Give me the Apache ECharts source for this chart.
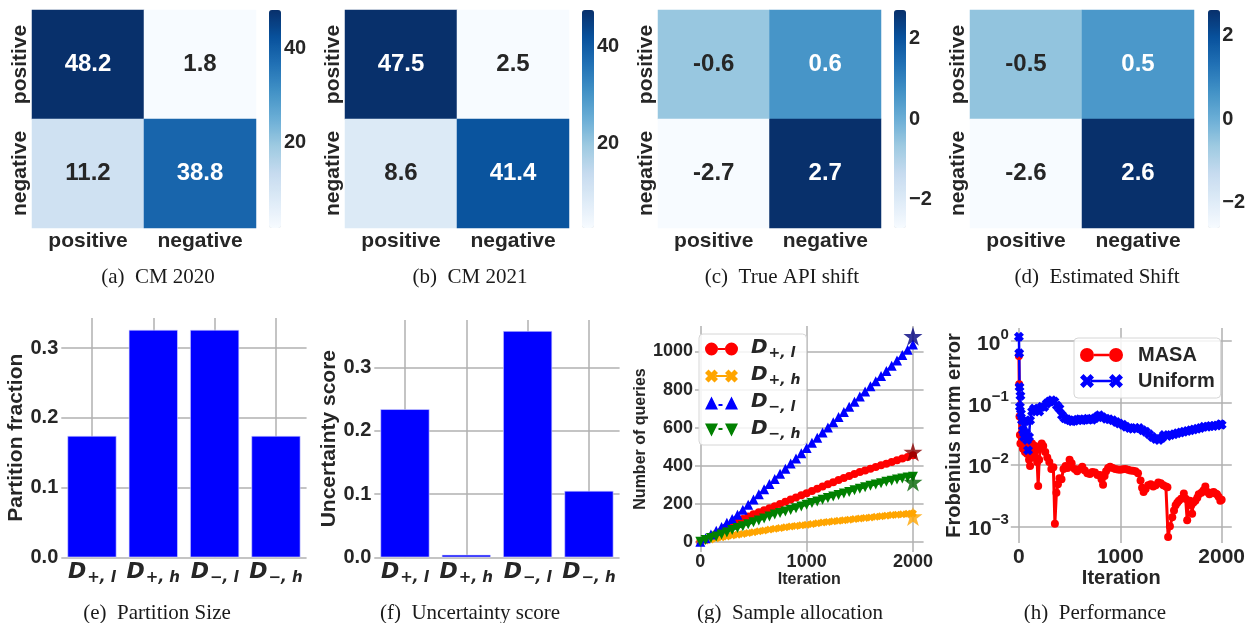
<!DOCTYPE html>
<html><head><meta charset="utf-8">
<script src="https://cdn.jsdelivr.net/npm/echarts@6/dist/echarts.min.js"></script>
<style>html,body{margin:0;padding:0;background:#fff}#c{width:1248px;height:623px}</style>
</head><body><div id="c"></div>
<script>
// ---------------- DATA ----------------
const CM_LABELS = ['positive', 'negative'];
const CM_2020 = [[48.2, 1.8], [11.2, 38.8]];
const CM_2021 = [[47.5, 2.5], [8.6, 41.4]];
const TRUE_SHIFT = [[-0.6, 0.6], [-2.7, 2.7]];
const EST_SHIFT = [[-0.5, 0.5], [-2.6, 2.6]];
const CB_TICKS_A = [20, 40];
const CB_TICKS_B = [20, 40];
const CB_TICKS_C = [-2, 0, 2];
const CB_TICKS_D = [-2, 0, 2];
const CAPTIONS = ['(a)  CM 2020', '(b)  CM 2021', '(c)  True API shift', '(d)  Estimated Shift',
                  '(e)  Partition Size', '(f)  Uncertainty score', '(g)  Sample allocation', '(h)  Performance'];

const PARTITION_SUBS = ['+, l', '+, h', '\u2212, l', '\u2212, h'];
const PARTITIONS = PARTITION_SUBS.map(s => 'D' + s);
const PARTITION_FRACTION = [0.174, 0.326, 0.326, 0.174];
const UNCERTAINTY_SCORE = [0.234, 0.004, 0.3575, 0.105];

const ITER_G = [0,50,100,150,200,250,300,350,400,450,500,550,600,650,700,750,800,850,900,950,1000,
                1050,1100,1150,1200,1250,1300,1350,1400,1450,1500,1550,1600,1650,1700,1750,1800,1850,1900,1950,2000];
const Q_POS_L = [0,14,28,42,56,73,90,106,119,132,144,155,165,176,187,198,210,222,233,244,255,
                 266,278,290,302,313,324,335,346,356,366,375,384,393,402,410,419,428,437,446,455];
const Q_POS_H = [0,6,12,18,23,28,33,37,41,46,50,55,59,64,68,72,76,80,83,86,89,
                 93,97,101,104,107,110,113,116,119,122,125,128,131,134,137,140,142,144,147,149];
const Q_NEG_L = [0,18,38,58,78,100,120,142,168,195,222,249,276,303,330,357,384,411,438,465,493,
                 520,547,574,601,628,655,682,709,736,763,790,817,844,871,898,925,953,981,1009,1037];
const Q_NEG_H = [0,9,19,28,38,49,61,72,82,92,102,112,122,133,143,151,159,167,176,185,194,
                 203,212,221,230,238,246,254,262,270,278,286,294,301,308,315,321,327,332,337,341];
const STAR_QUERIES = [472, 132, 1080, 314];   // final targets for D+,l  D+,h  D-,l  D-,h
const STAR_ITER = 2000;

const MASA_ERR = [[0,0.57],[3,0.2],[6,0.06],[10,0.03],[15,0.022],[20,0.03],[30,0.025],[40,0.018],[50,0.02],[60,0.016],
 [70,0.022],[80,0.015],[90,0.02],[100,0.012],[110,0.0095],[120,0.016],[130,0.022],[140,0.018],[150,0.013],[160,0.02],
 [170,0.017],[180,0.011],[190,0.0045],[200,0.012],[210,0.018],[225,0.022],[240,0.02],[260,0.016],[280,0.013],[300,0.011],
 [320,0.0085],[340,0.009],[355,0.0011],[370,0.0035],[385,0.0048],[400,0.006],[420,0.0058],[440,0.0085],[460,0.0095],[480,0.0088],
 [500,0.012],[520,0.0105],[550,0.0085],[575,0.0078],[600,0.0085],[625,0.0092],[650,0.008],[675,0.0072],[700,0.007],[725,0.0076],
 [750,0.0074],[775,0.0068],[800,0.0068],[815,0.0058],[830,0.0047],[845,0.0065],[860,0.0078],[880,0.0088],[900,0.0092],[925,0.0088],
 [950,0.0085],[975,0.0083],[1000,0.0082],[1025,0.0084],[1050,0.0085],[1075,0.0082],[1100,0.008],[1125,0.0079],[1150,0.0078],[1175,0.0072],
 [1200,0.0055],[1215,0.0042],[1230,0.0036],[1250,0.004],[1275,0.0046],[1300,0.0048],[1325,0.0044],[1350,0.0046],[1375,0.0051],[1400,0.005],
 [1425,0.0046],[1450,0.0044],[1465,0.0043],[1472,0.00067],[1490,0.001],[1513,0.0014],[1530,0.0018],[1546,0.0022],[1562,0.0024],[1578,0.0026],
 [1600,0.0028],[1627,0.0034],[1645,0.0028],[1660,0.00125],[1672,0.0026],[1686,0.0026],[1700,0.0022],[1709,0.0016],[1720,0.0024],[1741,0.0026],
 [1760,0.0029],[1774,0.0033],[1800,0.0035],[1820,0.0038],[1839,0.0044],[1860,0.0036],[1880,0.0033],[1900,0.0035],[1921,0.0036],[1940,0.0034],
 [1954,0.0033],[1970,0.003],[1987,0.0026],[2000,0.0027]];
const UNIFORM_ERR = [[0,1.17],[3,0.63],[6,0.18],[10,0.086],[15,0.13],[20,0.067],[30,0.052],[40,0.036],[50,0.028],[60,0.05],
 [70,0.032],[80,0.025],[90,0.017],[100,0.028],[110,0.052],[130,0.072],[150,0.081],[175,0.076],[200,0.072],[225,0.086],
 [250,0.085],[275,0.097],[300,0.105],[325,0.11],[350,0.105],[375,0.09],[400,0.081],[425,0.063],[450,0.056],[475,0.054],
 [500,0.052],[525,0.05],[550,0.051],[575,0.053],[600,0.054],[625,0.052],[650,0.053],[675,0.055],[700,0.054],[725,0.053],
 [750,0.056],[775,0.06],[794,0.063],[825,0.058],[860,0.055],[890,0.054],[925,0.052],[960,0.049],[990,0.046],[1025,0.044],
 [1056,0.041],[1090,0.039],[1121,0.038],[1150,0.039],[1186,0.039],[1220,0.036],[1252,0.034],[1285,0.031],[1317,0.028],[1350,0.026],
 [1382,0.025],[1410,0.027],[1431,0.03],[1465,0.029],[1497,0.03],[1530,0.031],[1562,0.032],[1595,0.033],[1627,0.034],[1660,0.035],
 [1693,0.036],[1725,0.037],[1758,0.038],[1790,0.039],[1824,0.041],[1856,0.041],[1889,0.042],[1920,0.042],[1954,0.043],[1987,0.045],[2000,0.044]];

// ---------------- STYLE ----------------
const FONT = 'Liberation Sans';
const MATH = 'DejaVu Sans';
const TXT = '#262626';
const GRIDC = '#b0b0b0';
const BLUES = ['#f7fbff','#deebf7','#c6dbef','#9ecae1','#6baed6','#4292c6','#2171b5','#08519c','#08306b'];
const SYM_X = 'path://M0,3L3,0L5,2L7,0L10,3L8,5L10,7L7,10L5,8L3,10L0,7L2,5Z';
const SYM_STAR = 'path://M50,0L61.23,34.55L97.55,34.55L68.16,55.9L79.39,90.45L50,69.1L20.61,90.45L31.84,55.9L2.45,34.55L38.77,34.55Z';
const ICON_CIRC = 'path://M0,13A13,13,0,1,0,26,13A13,13,0,1,0,0,13Z M40,13A13,13,0,1,0,66,13A13,13,0,1,0,40,13Z M26,11L40,11L40,15L26,15Z';
const ICON_X = 'path://M0,7L7,0L13,6L19,0L26,7L20,13L26,19L19,26L13,20L7,26L0,19L6,13Z M40,7L47,0L53,6L59,0L66,7L60,13L66,19L59,26L53,20L47,26L40,19L46,13Z M21,11L45,11L45,15L21,15Z';
const ICON_UP = 'path://M13,0L26,26L0,26Z M53,0L66,26L40,26Z M27,15L35,15L35,19L27,19Z';
const ICON_DN = 'path://M0,0L26,0L13,26Z M40,0L66,0L53,26Z M27,9L35,9L35,13L27,13Z';
const ICON_CIRC_H = 'path://M0,14A14,14,0,1,0,28,14A14,14,0,1,0,0,14Z M58,14A14,14,0,1,0,86,14A14,14,0,1,0,58,14Z M28,11.5L58,11.5L58,16.5L28,16.5Z';
const ICON_X_H = 'path://M0,7L7,0L14,7L21,0L28,7L21,14L28,21L21,28L14,21L7,28L0,21L7,14Z M58,7L65,0L72,7L79,0L86,7L79,14L86,21L79,28L72,21L65,28L58,21L65,14Z M22,11.5L64,11.5L64,16.5L22,16.5Z';

const bold = (size) => ({fontFamily: FONT, fontWeight: 'bold', fontSize: size, color: TXT});
const mathRich = (dSize, sSize, pad) => ({
  d: {fontFamily: MATH, fontWeight: 'bold', fontStyle: 'italic', fontSize: dSize, color: TXT, lineHeight: dSize + 2, verticalAlign: 'top'},
  s: {fontFamily: MATH, fontWeight: 'bold', fontStyle: 'italic', fontSize: sSize, color: TXT, lineHeight: sSize, padding: [pad, 0, 0, 1], verticalAlign: 'top'}
});
const subOf = name => name.slice(1);
const plain = v => String(v);

const option = {animation: false, backgroundColor: '#fff', grid: [], xAxis: [], yAxis: [], series: [], visualMap: [], legend: [], graphic: []};

// ---------------- HEATMAPS ----------------
const HEAT = [
  {m: CM_2020, left: 32, width: 224, cb: 269, ticks: CB_TICKS_A},
  {m: CM_2021, left: 345, width: 224, cb: 582, ticks: CB_TICKS_B},
  {m: TRUE_SHIFT, left: 658, width: 223, cb: 894, ticks: CB_TICKS_C},
  {m: EST_SHIFT, left: 970, width: 224, cb: 1208, ticks: CB_TICKS_D}
];
const HTOP = 10, HH = 218;
HEAT.forEach((h, i) => {
  const vals = h.m.flat();
  const mn = Math.min(...vals), mx = Math.max(...vals);
  option.grid.push({left: h.left, top: HTOP, width: h.width, height: HH});
  option.xAxis.push({gridIndex: i, type: 'category', data: CM_LABELS, axisLine: {show: false}, axisTick: {show: false},
    splitLine: {show: false}, axisLabel: Object.assign(bold(21), {margin: 3, interval: 0})});
  option.yAxis.push({gridIndex: i, type: 'category', data: CM_LABELS, inverse: true, axisLine: {show: false}, axisTick: {show: false},
    splitLine: {show: false}, axisLabel: Object.assign(bold(21), {margin: 1, rotate: 90, interval: 0, hideOverlap: false})});
  const data = [];
  for (let r = 0; r < 2; r++) for (let c = 0; c < 2; c++) {
    const v = h.m[r][c];
    const t = (v - mn) / (mx - mn);
    data.push({value: [c, r, v], label: {color: t > 0.5 ? '#ffffff' : TXT}});
  }
  option.series.push({type: 'heatmap', xAxisIndex: i, yAxisIndex: i, data,
    label: {show: true, fontFamily: FONT, fontWeight: 'bold', fontSize: 24, textBorderWidth: 0,
            formatter: p => p.value[2].toFixed(1)},
    emphasis: {disabled: true}});
  option.visualMap.push({type: 'continuous', seriesIndex: i, dimension: 2, min: mn, max: mx, calculable: false,
    inRange: {color: BLUES}, left: h.cb, top: HTOP, itemWidth: 12, itemHeight: HH, padding: 0, hoverLink: false,
    textStyle: {fontSize: 0}});
});
// colorbar axes
HEAT.forEach((h, i) => {
  const vals = h.m.flat();
  const mn = Math.min(...vals), mx = Math.max(...vals);
  const gi = 4 + i;
  option.grid.push({left: h.cb, top: HTOP, width: 12, height: HH});
  option.xAxis.push({gridIndex: gi, type: 'value', show: false, min: 0, max: 1});
  option.yAxis.push({gridIndex: gi, type: 'value', position: 'right', min: mn, max: mx,
    axisLine: {show: false}, splitLine: {show: false},
    axisTick: {show: true, length: 3, customValues: h.ticks, lineStyle: {color: TXT, width: 1}},
    axisLabel: Object.assign(bold(20), {margin: 3, customValues: h.ticks,
      formatter: v => (v < 0 ? '\u2212' + Math.abs(v) : String(v))})});
});

// ---------------- BAR CHARTS ----------------
const BARS = [
  {vals: PARTITION_FRACTION, left: 61.3, top: 318, height: 239.3, max: 0.343, name: 'Partition fraction', gap: 34},
  {vals: UNCERTAINTY_SCORE, left: 374.3, top: 320, height: 237.3, max: 0.375, name: 'Uncertainty score', gap: 33}
];
BARS.forEach((b, k) => {
  const gi = 8 + k;
  option.grid.push({left: b.left, top: b.top, width: 245.3, height: b.height});
  option.xAxis.push({gridIndex: gi, type: 'value', min: -0.5, max: 3.5, splitNumber: 4,
    axisLine: {show: false}, axisTick: {show: false},
    splitLine: {show: true, showMinLine: false, showMaxLine: false, lineStyle: {color: GRIDC, width: 1.5}},
    axisLabel: {margin: 4, showMinLabel: false, showMaxLabel: false,
      formatter: v => (Number.isInteger(v) && v >= 0 && v < 4) ? '{d|D}{s|' + subOf(PARTITIONS[v]) + '}' : '',
      rich: mathRich(22, 15, 9)}});
  option.yAxis.push({gridIndex: gi, type: 'value', min: 0, max: b.max, splitNumber: 3,
    axisLine: {show: false}, axisTick: {show: false},
    splitLine: {show: true, showMaxLine: false, lineStyle: {color: GRIDC, width: 1.5}},
    axisLabel: Object.assign(bold(20), {margin: 3, showMaxLabel: false, formatter: v => v.toFixed(1)}),
    name: b.name, nameLocation: 'middle', nameGap: b.gap, nameTextStyle: bold(21)});
  option.series.push({type: 'bar', xAxisIndex: gi, yAxisIndex: gi, barWidth: 49,
    data: b.vals.map((v, i) => [i, v]),
    itemStyle: {color: '#0000ff', borderColor: '#d8d8ff', borderWidth: 0.6}, emphasis: {disabled: true}});
});

// ---------------- (g) SAMPLE ALLOCATION ----------------
option.grid.push({left: 695, top: 326, width: 228.6, height: 226});
option.xAxis.push({gridIndex: 10, type: 'value', min: -50, max: 2100, splitNumber: 2,
  axisLine: {show: false}, axisTick: {show: false},
  splitLine: {show: true, showMinLine: false, showMaxLine: false, lineStyle: {color: GRIDC, width: 1.5}},
  axisLabel: Object.assign(bold(18), {margin: 1, showMinLabel: false, showMaxLabel: false, formatter: plain}),
  name: 'Iteration', nameLocation: 'middle', nameGap: 15, nameTextStyle: bold(16)});
option.yAxis.push({gridIndex: 10, type: 'value', min: -54, max: 1134, splitNumber: 5,
  axisLine: {show: false}, axisTick: {show: false},
  splitLine: {show: true, showMinLine: false, showMaxLine: false, lineStyle: {color: GRIDC, width: 1.5}},
  axisLabel: Object.assign(bold(18), {margin: 2, showMinLabel: false, showMaxLabel: false, formatter: plain}),
  name: 'Number of queries', nameLocation: 'middle', nameGap: 44, nameTextStyle: bold(16)});
const G_SERIES = [
  {name: PARTITIONS[0], vals: Q_POS_L, color: '#ff0000', symbol: 'circle', size: 8, rot: 0, dash: 'solid'},
  {name: PARTITIONS[1], vals: Q_POS_H, color: '#ffa500', symbol: SYM_X, size: 8, rot: 0, dash: 'solid'},
  {name: PARTITIONS[2], vals: Q_NEG_L, color: '#0000ff', symbol: 'triangle', size: 10, rot: 0, dash: 'dashed'},
  {name: PARTITIONS[3], vals: Q_NEG_H, color: '#008000', symbol: 'triangle', size: 10, rot: 180, dash: 'dashed'}
];
G_SERIES.forEach(s => {
  option.series.push({type: 'line', name: s.name, xAxisIndex: 10, yAxisIndex: 10,
    data: ITER_G.map((x, i) => [x, s.vals[i]]), symbol: s.symbol, symbolSize: s.size, symbolRotate: s.rot,
    lineStyle: {color: s.color, width: 2, type: s.dash}, itemStyle: {color: s.color}, emphasis: {disabled: true}});
});
const STAR_COLORS = ['#8b0000', '#ffa500', '#000080', '#006400'];
option.series.push({type: 'scatter', name: 'targets', xAxisIndex: 10, yAxisIndex: 10, symbol: SYM_STAR, symbolSize: 19, z: 5,
  data: STAR_QUERIES.map((v, i) => ({value: [STAR_ITER, v], itemStyle: {color: STAR_COLORS[i]}})), emphasis: {disabled: true}});
option.legend.push({show: true, orient: 'vertical', left: 699, top: 334, padding: [4, 6, 4, 6], itemGap: 5,
  itemWidth: 33, itemHeight: 13, backgroundColor: 'rgba(255,255,255,0.85)', borderColor: '#d6d6d6', borderWidth: 1, borderRadius: 4,
  data: [
    {name: PARTITIONS[0], icon: ICON_CIRC}, {name: PARTITIONS[1], icon: ICON_X},
    {name: PARTITIONS[2], icon: ICON_UP}, {name: PARTITIONS[3], icon: ICON_DN}],
  selectedMode: false,
  formatter: n => '{d|D}{s|' + subOf(n) + '}',
  textStyle: {padding: [0, 0, 0, 8], rich: mathRich(20, 14, 8)}});

// ---------------- (h) PERFORMANCE ----------------
option.grid.push({left: 1010.8, top: 328, width: 222.4, height: 215});
option.xAxis.push({gridIndex: 11, type: 'value', min: -80, max: 2100, splitNumber: 2,
  axisLine: {show: false}, axisTick: {show: false},
  splitLine: {show: true, showMinLine: false, showMaxLine: false, lineStyle: {color: GRIDC, width: 1.5}},
  axisLabel: Object.assign(bold(21), {margin: 4, showMinLabel: false, showMaxLabel: false, formatter: plain}),
  name: 'Iteration', nameLocation: 'middle', nameGap: 20, nameTextStyle: bold(20)});
option.yAxis.push({gridIndex: 11, type: 'log', logBase: 10, min: Math.pow(10, -3.27), max: Math.pow(10, 0.21),
  axisLine: {show: false}, axisTick: {show: false},
  splitLine: {show: true, showMinLine: false, showMaxLine: false, lineStyle: {color: GRIDC, width: 1.5}},
  axisLabel: {margin: 2, showMinLabel: false, showMaxLabel: false,
    formatter: v => { const e = Math.round(Math.log10(v)); return '{b|10}{e|' + (e < 0 ? '\u2212' + (-e) : e) + '}'; },
    rich: {b: Object.assign(bold(21), {lineHeight: 27, verticalAlign: 'bottom'}),
           e: Object.assign(bold(15), {lineHeight: 15, verticalAlign: 'top'})}},
  name: 'Frobenius norm error', nameLocation: 'middle', nameGap: 43, nameTextStyle: bold(20)});
option.series.push({type: 'line', name: 'MASA', xAxisIndex: 11, yAxisIndex: 11, data: MASA_ERR,
  symbol: 'circle', symbolSize: 8, lineStyle: {color: '#ff0000', width: 3}, itemStyle: {color: '#ff0000'}, emphasis: {disabled: true}});
option.series.push({type: 'line', name: 'Uniform', xAxisIndex: 11, yAxisIndex: 11, data: UNIFORM_ERR,
  symbol: SYM_X, symbolSize: 10, lineStyle: {color: '#0000ff', width: 2.5}, itemStyle: {color: '#0000ff'}, emphasis: {disabled: true}});
option.legend.push({show: true, orient: 'vertical', left: 1074, top: 338, padding: [7, 6, 7, 6], itemGap: 6,
  itemWidth: 43, itemHeight: 14, backgroundColor: 'rgba(255,255,255,0.85)', borderColor: '#d6d6d6', borderWidth: 1, borderRadius: 4,
  data: [{name: 'MASA', icon: ICON_CIRC_H}, {name: 'Uniform', icon: ICON_X_H}], selectedMode: false,
  textStyle: Object.assign(bold(20), {padding: [0, 0, 0, 10]})});

// ---------------- CAPTIONS ----------------
const CAP_POS = [[158, 277], [470, 277], [782, 277], [1097, 277], [157, 613], [470, 613], [790, 613], [1095, 613]];
CAPTIONS.forEach((t, i) => {
  option.graphic.push({type: 'text', x: CAP_POS[i][0], y: CAP_POS[i][1], silent: true,
    style: {text: t, fontFamily: 'Liberation Serif', fontSize: 21, fill: '#1a1a1a', align: 'center', verticalAlign: 'middle'}});
});

const chart = echarts.init(document.getElementById('c'));
chart.setOption(option);
</script>
</body></html>
